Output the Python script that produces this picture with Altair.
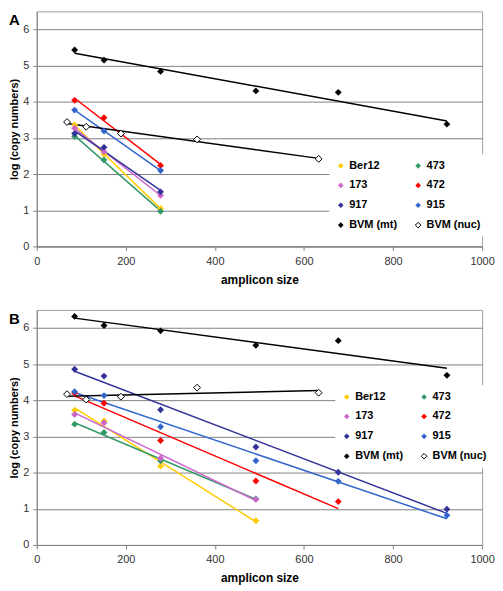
import altair as alt
import pandas as pd

FONT = "Liberation Sans"

series_names = ["Ber12", "473", "173", "472", "917", "915", "BVM (mt)", "BVM (nuc)"]
series_strokes = ["#FFCC00", "#339966", "#CC66CC", "#FF0000", "#333399", "#3366CC", "#000000", "#000000"]
series_fills = ["#FFCC00", "#339966", "#CC66CC", "#FF0000", "#333399", "#3366CC", "#000000", "#FFFFFF"]

# amplicon sizes
sizes_mt = [85, 151, 278, 492, 677, 921]
sizes_nuc = [68, 111, 189, 360, 633]

# Panel A  (log copy numbers)
a_sizes = [85, 151, 278]
a_ber12 = [3.36, 2.55, 1.05]
a_473 = [3.04, 2.39, 0.97]
a_173 = [3.27, 2.62, 1.41]
a_472 = [4.04, 3.56, 2.24]
a_917 = [3.12, 2.74, 1.51]
a_915 = [3.77, 3.19, 2.10]
a_mt = [5.43, 5.15, 4.84, 4.30, 4.26, 3.38]
a_nuc = [3.44, 3.31, 3.12, 2.96, 2.42]

# Panel B
b_ber12 = [3.72, 3.43, 2.18, 0.67]
b_473 = [3.34, 3.11, 2.33, 1.27]
b_173 = [3.61, 3.38, 2.40, 1.26]
b_472 = [4.20, 3.92, 2.89, 1.77, 1.20]
b_917 = [4.86, 4.67, 3.74, 2.71, 2.01, 0.99]
b_915 = [4.24, 4.13, 3.27, 2.33, 1.76, 0.82]
b_mt = [6.32, 6.07, 5.92, 5.52, 5.65, 4.69]
b_nuc = [4.17, 4.02, 4.10, 4.35, 4.21]


def build(series_list):
    rows = []
    for name, sizes, vals in series_list:
        for s, v in zip(sizes, vals):
            rows.append({"series": name, "size": s, "value": v})
    return pd.DataFrame(rows)


df_a = build([
    ("Ber12", a_sizes, a_ber12), ("473", a_sizes, a_473), ("173", a_sizes, a_173),
    ("472", a_sizes, a_472), ("917", a_sizes, a_917), ("915", a_sizes, a_915),
    ("BVM (mt)", sizes_mt, a_mt), ("BVM (nuc)", sizes_nuc, a_nuc),
])
df_b = build([
    ("Ber12", sizes_mt[:4], b_ber12), ("473", sizes_mt[:4], b_473), ("173", sizes_mt[:4], b_173),
    ("472", sizes_mt[:5], b_472), ("917", sizes_mt, b_917), ("915", sizes_mt, b_915),
    ("BVM (mt)", sizes_mt, b_mt), ("BVM (nuc)", sizes_nuc, b_nuc),
])


def make_legend(lx, ly):
    return alt.Legend(
        title=None, orient="none", legendX=lx, legendY=ly, columns=2, direction="horizontal",
        symbolType="diamond", symbolSize=32, symbolStrokeWidth=1, symbolOpacity=1,
        symbolStrokeColor=alt.ExprRef("datum.value === 'BVM (nuc)' ? '#000000' : 'transparent'"),
        labelFont=FONT, labelFontSize=11, labelFontWeight="bold",
        labelColor="#000000", labelOffset=3, columnPadding=15,
        rowPadding=8, padding=6, fillColor="#FFFFFF",
    )


def panel(df, label, lx, ly):
    x = alt.X("size:Q", scale=alt.Scale(domain=[0, 1000], nice=False),
              axis=alt.Axis(values=[0, 200, 400, 600, 800, 1000], format="d", title="amplicon size",
                            grid=False, tickSize=4, tickColor="#808080", domainColor="#808080",
                            labelFlush=False, labelPadding=5, titlePadding=8,
                            labelFontSize=11, titleFontSize=12,
                            labelFont=FONT, titleFont=FONT, labelColor="#333333",
                            titleColor="#000000", titleFontWeight="bold"))
    y = alt.Y("value:Q", scale=alt.Scale(domain=[0, 6.5], nice=False),
              axis=alt.Axis(values=[0, 1, 2, 3, 4, 5, 6], title="log (copy numbers)",
                            grid=True, gridColor="#808080", gridWidth=1, tickSize=4,
                            tickColor="#808080", domainColor="#808080",
                            labelPadding=4, titlePadding=3, labelFontSize=11, titleFontSize=11,
                            labelFont=FONT, titleFont=FONT, labelColor="#333333",
                            titleColor="#000000", titleFontWeight="bold"))
    base = alt.Chart(df)
    # trend lines: own stroke scale (domain listed in reverse so it is not merged with the legend)
    lines = base.transform_regression(
        "size", "value", groupby=["series"]
    ).mark_line(strokeWidth=1.5).encode(
        x=x, y=y,
        stroke=alt.Stroke("series:N",
                          scale=alt.Scale(domain=series_names[::-1], range=series_strokes[::-1]),
                          legend=None),
    )
    pts = base.mark_point(shape="diamond", size=48, filled=True, opacity=1, strokeWidth=1).encode(
        x=x, y=y,
        color=alt.Color("series:N", scale=alt.Scale(domain=series_names, range=series_fills),
                        legend=make_legend(lx, ly)),
        stroke=alt.condition("datum.series === 'BVM (nuc)'", alt.value("#000000"),
                             alt.value("transparent")),
    )
    return alt.layer(lines, pts).properties(
        width=449, height=237,
        title=alt.TitleParams(text=label, anchor="start", frame="bounds", fontSize=15,
                              fontWeight="bold", font=FONT, color="#000000", offset=-17),
    )


chart = alt.vconcat(
    panel(df_a, "A", 295, 144),
    panel(df_b, "B", 301, 76),
    spacing=23,
).resolve_scale(
    color="independent", stroke="independent"
).configure(padding=0).configure_view(stroke="#a0a0a0", strokeWidth=1)

chart.save("out.html", embed_options={"renderer": "svg", "actions": False})
